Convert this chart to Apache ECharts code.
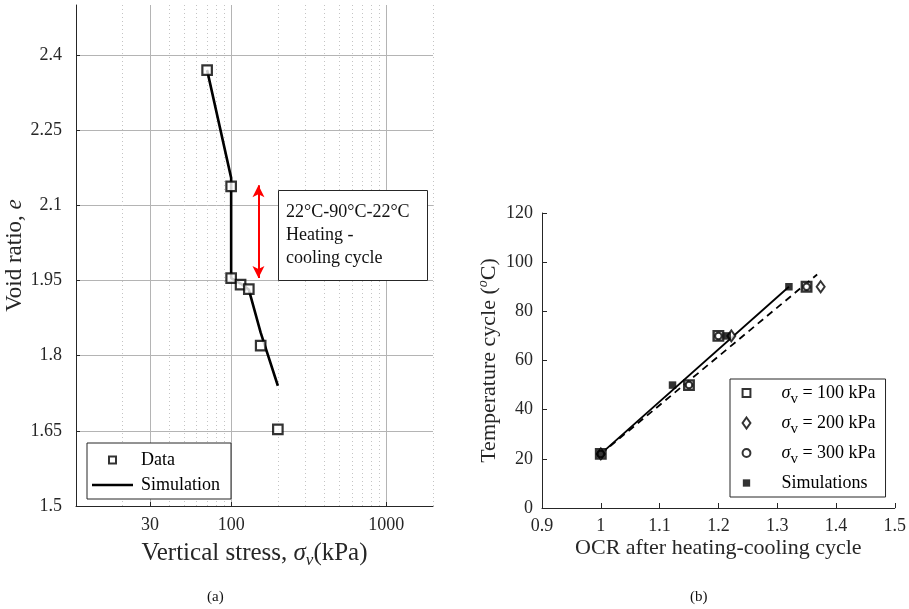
<!DOCTYPE html>
<html>
<head>
<meta charset="utf-8">
<script src="https://cdn.jsdelivr.net/npm/echarts@6/dist/echarts.min.js"></script>
<style>
  html, body { margin: 0; padding: 0; background: #fff; }
  #chart { width: 909px; height: 609px; }
</style>
</head>
<body>
<div id="chart"></div>
<script>
// ---- (a) compression curve: void ratio vs vertical stress ----
const stressData = [70, 100, 100, 115, 130, 155, 200];
const voidData   = [2.37, 2.138, 1.955, 1.942, 1.933, 1.82, 1.653];
const stressSim  = [70, 100, 100, 115, 130, 155, 200];
const voidSim    = [2.37, 2.155, 1.955, 1.944, 1.932, 1.846, 1.74];

// heating-cooling arrow (stress, void ratio top, void ratio bottom)
const cycleStress = 150;
const cycleTop = 2.14;
const cycleBottom = 1.955;

// log grid lines
const majorStressGrid = [30, 100, 1000];
const minorStressGrid = [20, 40, 50, 60, 70, 80, 90, 200, 300, 400, 500, 600, 700, 800, 900, 2000];
const stressTicks = [30, 100, 1000];

// ---- (b) temperature cycle vs OCR ----
const ocr100 = [1.0, 1.15, 1.2, 1.35];
const temp100 = [22, 50, 70, 90];
const ocr200 = [1.0, 1.222, 1.374];
const temp200 = [22, 70, 90];
const ocr300 = [1.0, 1.15, 1.2, 1.35];
const temp300 = [22, 50, 70, 90];
const ocrSim = [1.0, 1.122, 1.215, 1.32];
const tempSim = [22, 50, 70, 90];
// fitted trends
const simFitOcr = [1.0, 1.32];
const simFitTemp = [22, 90];
const dataFitOcr = [1.0, 1.368];
const dataFitTemp = [22, 95];

const SERIF = "'Liberation Serif', 'DejaVu Serif', serif";
const INK = '#262626';

// legend glyphs as paths so they keep their proportions inside the legend slot
// (the leading move-to points leave a margin around the smaller glyphs)
const ICON_SQUARE = 'path://M0,0H10V10H0Z';
const ICON_SQUARE_PAD = 'path://M-2,-2M12,12M0,0H10V10H0Z';
const ICON_SQUARE_PAD_S = 'path://M-2.5,-2.5M12.5,12.5M0,0H10V10H0Z';
const ICON_DIAMOND = 'path://M5,0L10,7L5,14L0,7Z';
const ICON_CIRCLE_PAD = 'path://M-2,-2M12,12M5,0A5,5,0,1,1,5,10A5,5,0,1,1,5,0Z';
const ICON_LINE = 'path://M0,0H41V2.6H0Z';

const zip = (xs, ys) => xs.map((x, i) => [x, ys[i]]);

const chart = echarts.init(document.getElementById('chart'), null, { renderer: 'canvas' });

chart.setOption({
  animation: false,
  backgroundColor: '#fff',
  grid: [
    { left: 76, top: 5, width: 357, height: 501, containLabel: false },
    { left: 542, top: 213, width: 355, height: 295, containLabel: false }
  ],
  xAxis: [
    {
      gridIndex: 0, type: 'log', logBase: 10, min: 10, max: 2000,
      name: 'Vertical stress, {s|σ}{subi|v}(kPa)',
      nameLocation: 'middle', nameGap: 27,
      nameTextStyle: {
        fontFamily: SERIF, fontSize: 25, color: INK, lineHeight: 30,
        rich: {
          s: { fontStyle: 'italic', fontFamily: SERIF, fontSize: 25, lineHeight: 30, verticalAlign: 'middle', color: INK },
          subi: { fontStyle: 'italic', fontFamily: SERIF, fontSize: 17, lineHeight: 15, verticalAlign: 'bottom', color: INK }
        }
      },
      axisLine: { show: true, onZero: false, lineStyle: { color: INK, width: 1 } },
      axisTick: { show: true, inside: true, length: 4, customValues: stressTicks, lineStyle: { color: INK } },
      axisLabel: { customValues: stressTicks, fontFamily: SERIF, fontSize: 18, color: INK, margin: 10,
                   formatter: v => String(Math.round(v)) },
      splitLine: { show: false },
      minorTick: { show: false }
    },
    {
      gridIndex: 1, type: 'value', min: 0.9, max: 1.5, interval: 0.1,
      name: 'OCR after heating-cooling cycle',
      nameLocation: 'middle', nameGap: 29,
      nameTextStyle: { fontFamily: SERIF, fontSize: 22, color: INK },
      axisLine: { show: true, onZero: false, lineStyle: { color: INK, width: 1 } },
      axisTick: { show: true, inside: true, length: 5, lineStyle: { color: INK } },
      axisLabel: { fontFamily: SERIF, fontSize: 18, color: INK, margin: 9 },
      splitLine: { show: false }
    }
  ],
  yAxis: [
    {
      gridIndex: 0, type: 'value', min: 1.5, max: 2.5, interval: 0.15,
      name: 'Void ratio, {e|e}',
      nameLocation: 'middle', nameGap: 42, nameRotate: 90,
      nameTextStyle: {
        fontFamily: SERIF, fontSize: 23, color: INK,
        rich: { e: { fontStyle: 'italic', fontFamily: SERIF, fontSize: 23, color: INK } }
      },
      axisLine: { show: true, onZero: false, lineStyle: { color: INK, width: 1 } },
      axisTick: { show: true, inside: true, length: 4, lineStyle: { color: INK } },
      axisLabel: { fontFamily: SERIF, fontSize: 18, color: INK, margin: 14, showMaxLabel: false },
      splitLine: { show: true, showMinLine: false, showMaxLine: false, lineStyle: { color: '#b4b4b4', width: 1 } }
    },
    {
      gridIndex: 1, type: 'value', min: 0, max: 120, interval: 20,
      name: 'Temperature cycle ({o|o}C)',
      nameLocation: 'middle', nameGap: 37, nameRotate: 90,
      nameTextStyle: {
        fontFamily: SERIF, fontSize: 22, color: INK, lineHeight: 26,
        rich: { o: { fontStyle: 'italic', fontFamily: SERIF, fontSize: 14, lineHeight: 14, verticalAlign: 'top', color: INK } }
      },
      axisLine: { show: true, onZero: false, lineStyle: { color: INK, width: 1 } },
      axisTick: { show: true, inside: true, length: 5, lineStyle: { color: INK } },
      axisLabel: { fontFamily: SERIF, fontSize: 18, color: INK, margin: 9 },
      splitLine: { show: false }
    }
  ],
  legend: [
    {
      orient: 'vertical', left: 87, top: 443,
      padding: [8, 11, 5, 5], itemGap: 7, itemWidth: 41, itemHeight: 7,
      symbolKeepAspect: true,
      borderColor: INK, borderWidth: 1, backgroundColor: '#fff', borderRadius: 0,
      textStyle: { fontFamily: SERIF, fontSize: 18, color: '#000', lineHeight: 16, padding: [0, 0, 0, 3] },
      data: [
        { name: 'Data', icon: ICON_SQUARE, itemStyle: { color: '#fff', borderColor: '#000', borderWidth: 2 } },
        { name: 'Simulation', icon: ICON_LINE, itemStyle: { color: '#000', borderWidth: 0 } }
      ]
    },
    {
      orient: 'vertical', left: 730, top: 379,
      padding: [0, 10, 0, 10], itemGap: 2, itemWidth: 28, itemHeight: 11,
      symbolKeepAspect: true,
      borderColor: INK, borderWidth: 1, backgroundColor: '#fff', borderRadius: 0,
      textStyle: {
        fontFamily: SERIF, fontSize: 18, color: '#000', lineHeight: 28,
        rich: {
          gap: { width: 16, lineHeight: 28 },
          s: { fontStyle: 'italic', fontFamily: SERIF, fontSize: 18, lineHeight: 28, verticalAlign: 'middle', color: '#000' },
          sub: { fontFamily: SERIF, fontSize: 15, lineHeight: 12, verticalAlign: 'bottom', color: '#000' },
          t: { fontFamily: SERIF, fontSize: 18, lineHeight: 28, verticalAlign: 'middle', color: '#000' }
        }
      },
      formatter: name => {
        const m = name.match(/^σv = (.*)$/);
        return m ? '{gap|}{s|σ}{sub|v}{t| = ' + m[1] + '}' : '{gap|}{t|' + name + '}';
      },
      data: [
        { name: 'σv = 100 kPa', icon: ICON_SQUARE_PAD, itemStyle: { color: '#fff', borderColor: '#000', borderWidth: 2 } },
        { name: 'σv = 200 kPa', icon: ICON_DIAMOND, itemStyle: { color: '#fff', borderColor: '#000', borderWidth: 2 } },
        { name: 'σv = 300 kPa', icon: ICON_CIRCLE_PAD, itemStyle: { color: '#fff', borderColor: '#000', borderWidth: 2 } },
        { name: 'Simulations', icon: ICON_SQUARE_PAD_S, itemStyle: { color: '#000', borderWidth: 0 } }
      ]
    }
  ],
  series: [
    // log-scale grid of panel (a)
    {
      name: 'gridMinor', type: 'line', xAxisIndex: 0, yAxisIndex: 0, data: [], silent: true, z: 0,
      markLine: {
        silent: true, symbol: 'none', animation: false, label: { show: false }, z: 0,
        lineStyle: { color: '#c4c4c4', type: [1, 3], width: 1 },
        data: minorStressGrid.map(v => ({ xAxis: v }))
      }
    },
    {
      name: 'gridMajor', type: 'line', xAxisIndex: 0, yAxisIndex: 0, data: [], silent: true, z: 0,
      markLine: {
        silent: true, symbol: 'none', animation: false, label: { show: false }, z: 0,
        lineStyle: { color: '#b4b4b4', type: 'solid', width: 1 },
        data: majorStressGrid.map(v => ({ xAxis: v }))
      }
    },
    {
      name: 'Simulation', type: 'line', xAxisIndex: 0, yAxisIndex: 0,
      data: zip(stressSim, voidSim), symbol: 'none', showSymbol: false, smooth: false,
      lineStyle: { color: '#000', width: 2.6 }, itemStyle: { color: '#000' }, z: 3,
      markLine: {
        silent: true, symbol: ['arrow', 'arrow'], symbolSize: [9, 12], animation: false, z: 6,
        label: { show: false },
        lineStyle: { color: '#ff0000', type: 'solid', width: 2 },
        data: [[{ coord: [cycleStress, cycleTop] }, { coord: [cycleStress, cycleBottom] }]]
      }
    },
    {
      name: 'Data', type: 'scatter', xAxisIndex: 0, yAxisIndex: 0,
      data: zip(stressData, voidData), symbol: 'rect', symbolSize: 9.5,
      itemStyle: { color: '#fff', borderColor: '#000', borderWidth: 2.2 }, z: 4
    },

    // panel (b)
    {
      name: 'simFit', type: 'line', xAxisIndex: 1, yAxisIndex: 1,
      data: zip(simFitOcr, simFitTemp), symbol: 'none', showSymbol: false,
      lineStyle: { color: '#000', width: 1.8 }, z: 2
    },
    {
      name: 'dataFit', type: 'line', xAxisIndex: 1, yAxisIndex: 1,
      data: zip(dataFitOcr, dataFitTemp), symbol: 'none', showSymbol: false,
      lineStyle: { color: '#000', width: 1.8, type: [7, 5] }, z: 2
    },
    {
      name: 'σv = 100 kPa', type: 'scatter', xAxisIndex: 1, yAxisIndex: 1,
      data: zip(ocr100, temp100), symbol: 'rect', symbolSize: 9.5,
      itemStyle: { color: '#fff', borderColor: '#000', borderWidth: 2.4 }, z: 3
    },
    {
      name: 'σv = 200 kPa', type: 'scatter', xAxisIndex: 1, yAxisIndex: 1,
      data: zip(ocr200, temp200), symbol: 'diamond', symbolSize: [8, 11],
      itemStyle: { color: '#fff', borderColor: '#000', borderWidth: 2 }, z: 3
    },
    {
      name: 'σv = 300 kPa', type: 'scatter', xAxisIndex: 1, yAxisIndex: 1,
      data: zip(ocr300, temp300), symbol: 'circle', symbolSize: 6.5,
      itemStyle: { color: '#fff', borderColor: '#000', borderWidth: 2 }, z: 4
    },
    {
      name: 'Simulations', type: 'scatter', xAxisIndex: 1, yAxisIndex: 1,
      data: zip(ocrSim, tempSim), symbol: 'rect', symbolSize: 7.5,
      itemStyle: { color: '#000' }, z: 5
    }
  ],
  graphic: [
    { type: 'rect', z: 100, shape: { x: 278.5, y: 190.5, width: 149, height: 90 },
      style: { fill: '#fff', stroke: INK, lineWidth: 1 } },
    { type: 'text', z: 101, x: 286, y: 201,
      style: { text: '22°C-90°C-22°C\nHeating -\ncooling cycle',
               font: "18px 'Liberation Serif', serif", lineHeight: 23, fill: '#111' } },
    { type: 'text', left: 207, top: 590, z: 100,
      style: { text: '(a)', font: "15px 'Liberation Serif', serif", fill: '#111' } },
    { type: 'text', left: 690, top: 590, z: 100,
      style: { text: '(b)', font: "15px 'Liberation Serif', serif", fill: '#111' } }
  ]
});
</script>
</body>
</html>
